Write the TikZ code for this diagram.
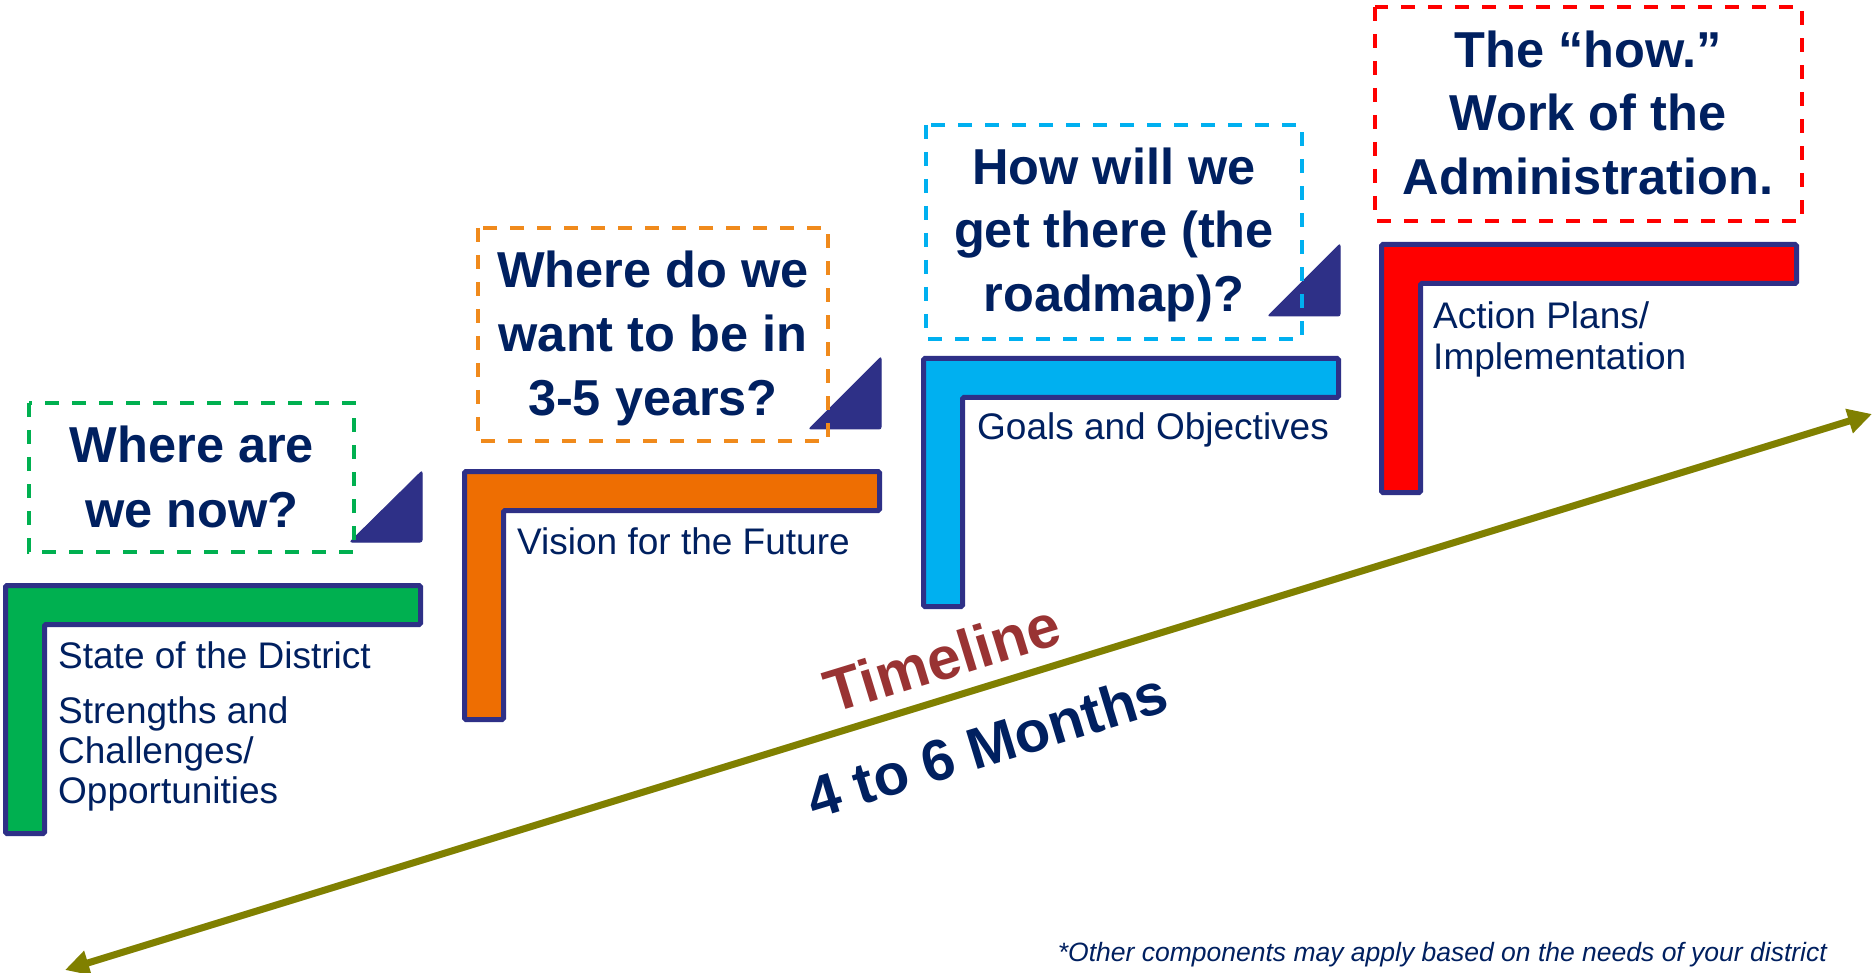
\documentclass[tikz,border=0pt]{standalone}
\usepackage{fontspec}
\setmainfont{Liberation Sans}
\usetikzlibrary{arrows.meta}
\definecolor{navy}{HTML}{002060}
\definecolor{indig}{HTML}{2E3087}
\definecolor{lgreen}{HTML}{00B050}
\definecolor{lorange}{HTML}{EE6E02}
\definecolor{lblue}{HTML}{00B0F0}
\definecolor{lred}{HTML}{FF0000}
\definecolor{dorange}{HTML}{F08A1C}
\definecolor{olive}{HTML}{808000}
\definecolor{brick}{HTML}{993333}
\tikzset{
  lshape/.style={draw=indig, line width=5pt, line join=miter, rounded corners=1.5pt, fill=#1},
  tri/.style={fill=indig, draw=indig, line width=1pt, rounded corners=2pt},
  qbox/.style={draw=#1, line width=3.2pt, dash pattern=on 14pt off 13pt},
  hd/.style={font=\fontsize{50.5}{60}\selectfont\bfseries, text=navy, inner sep=0pt, anchor=base},
  sm/.style={font=\fontsize{37}{40}\selectfont, text=navy, inner sep=0pt, anchor=base west},
  tline/.style={draw=olive, line width=7pt, {Triangle[length=24pt,width=24pt]}-{Triangle[length=24pt,width=24pt]}},
}
\newcommand\drawL[3]{\path[lshape=#3] (#1+2.5,#2+2.5) -- ++(415,0) -- ++(0,39) -- ++(-376,0) -- ++(0,209) -- ++(-39,0) -- cycle;}
\begin{document}
\begin{tikzpicture}[x=1pt,y=-1pt]
\useasboundingbox[fill=white] (0,0) rectangle (1872,973);

% L shapes
\drawL{3}{583}{lgreen}
\drawL{462}{469}{lorange}
\drawL{921}{356}{lblue}
\drawL{1379}{242}{lred}

% triangles
\path[tri] (350,542) -- (422,542) -- (422,471) -- cycle;
\path[tri] (809,429) -- (881,429) -- (881,357) -- cycle;
\path[tri] (1268,316) -- (1340,316) -- (1340,244) -- cycle;

% dashed boxes
\draw[qbox=lgreen] (29,403) rectangle (354,552);
\draw[qbox=dorange] (478,228) rectangle (828,441);
\draw[qbox=lblue] (926,125) rectangle (1302,339);
\draw[qbox=lred] (1375,7) rectangle (1802,221);

% headings
\node[hd] (g1) at (192,463) {Where are};
\node[hd] (g2) at (192,527) {we now?};
\node[hd] (o1) at (653,288) {Where do we};
\node[hd] (o2) at (653,352) {want to be in};
\node[hd] (o3) at (653,416) {3-5 years?};
\node[hd] (b1) at (1114,185) {How will we};
\node[hd] (b2) at (1114,248) {get there (the};
\node[hd] (b3) at (1114,312) {roadmap)?};
\node[hd] (r1) at (1588,68) {The “how.”};
\node[hd] (r2) at (1588,131) {Work of the};
\node[hd] (r3) at (1588,195) {Administration.};

% small labels
\node[sm] (gs1) at (58,668) {State of the District};
\node[sm] (gs2) at (58,723) {Strengths and};
\node[sm] (gs3) at (58,763) {Challenges/};
\node[sm] (gs4) at (58,803) {Opportunities};
\node[sm] (os1) at (517,554) {Vision for the Future};
\node[sm] (bs1) at (977,440) {Goals and Objectives};
\node[sm] (rs1) at (1433,329) {Action Plans/};
\node[sm] (rs2) at (1433,370) {Implementation};

% timeline
\coordinate (tstart) at (65,970);
\coordinate (tend) at (1872,414);
\draw[tline] (tstart) -- (tend);
\node[font=\fontsize{60}{70}\selectfont\bfseries, text=brick, rotate=17, inner sep=0pt] (tl) at (942,658) {Timeline};
\node[font=\fontsize{58}{68}\selectfont\bfseries, text=navy, rotate=17, inner sep=0pt] (mo) at (987,745) {4 to 6 Months};

% footnote
\node[font=\fontsize{26.5}{30}\selectfont\itshape, text=navy, inner sep=0pt, anchor=base east] (fn) at (1827,961) {*Other components may apply based on the needs of your district};
\end{tikzpicture}
\end{document}
